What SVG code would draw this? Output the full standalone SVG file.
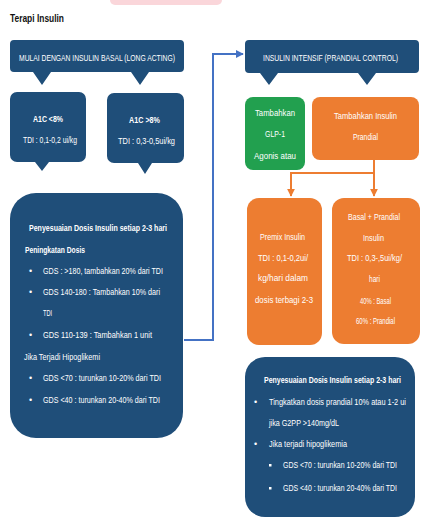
<svg xmlns="http://www.w3.org/2000/svg" width="427" height="525" viewBox="0 0 427 525">
<defs>
<style>
text{font-family:"Liberation Sans",Arial,sans-serif;fill:#fff;font-size:9px}
.c{text-anchor:middle}
.b{font-weight:bold}
.db{fill:#1f4e79}
.gr{fill:#22a04f}
.or{fill:#ed7d31}
.title{fill:#111;font-size:11px;font-weight:bold}
.blue{fill:none;stroke:#4472c4;stroke-width:2}
.orl{fill:none;stroke:#ed7d31;stroke-width:2}
</style>
<marker id="ab" viewBox="0 0 10 10" refX="9" refY="5" markerWidth="4" markerHeight="4" orient="auto"><path d="M0,0L10,5L0,10z" fill="#4472c4"/></marker>
<marker id="ao" viewBox="0 0 10 10" refX="9" refY="5" markerWidth="4" markerHeight="4" orient="auto"><path d="M0,0L10,5L0,10z" fill="#ed7d31"/></marker>
</defs>
<rect width="427" height="525" fill="#fff"/>
<rect x="110" y="-6" width="112" height="11" rx="5" fill="#fad6da"/>
<text class="title" x="10" y="22" textLength="54" lengthAdjust="spacingAndGlyphs">Terapi Insulin</text>

<g id="connectors">
<path class="blue" d="M184,340H213V54H243" marker-end="url(#ab)"/>
<path class="orl" d="M374,160V173H291V196"/>
<path class="orl" d="M291,185V196" marker-end="url(#ao)"/>
<path class="orl" d="M374,173V196" marker-end="url(#ao)"/>
</g>

<g id="basal">
<path class="db" d="M14,40H180a4,4 0 0 1 4,4V68a4,4 0 0 1 -4,4H149L140,85L131,72H51L42,85L33,72H14a4,4 0 0 1 -4,-4V44a4,4 0 0 1 4,-4z"/>
<text x="19" y="61" textLength="156" lengthAdjust="spacingAndGlyphs">MULAI DENGAN INSULIN BASAL (LONG ACTING)</text>
</g>

<g id="intensif">
<path class="db" d="M249,40H415a4,4 0 0 1 4,4V69a4,4 0 0 1 -4,4H376L367,85L358,73H278L269,85L260,73H249a4,4 0 0 1 -4,-4V44a4,4 0 0 1 4,-4z"/>
<text x="263" y="61" textLength="135" lengthAdjust="spacingAndGlyphs">INSULIN INTENSIF (PRANDIAL CONTROL)</text>
</g>

<g id="a1c-lt8">
<path class="db" d="M17,92H79a7,7 0 0 1 7,7V155a7,7 0 0 1 -7,7H49L42,171L35,162H17a7,7 0 0 1 -7,-7V99a7,7 0 0 1 7,-7z"/>
<text class="b" x="33" y="122" textLength="30" lengthAdjust="spacingAndGlyphs">A1C &lt;8%</text>
<text x="23" y="143" textLength="54" lengthAdjust="spacingAndGlyphs">TDI : 0,1-0,2 ui/kg</text>
</g>

<g id="a1c-gt8">
<path class="db" d="M114,93H177a7,7 0 0 1 7,7V156a7,7 0 0 1 -7,7H152L145,174L138,163H114a7,7 0 0 1 -7,-7V100a7,7 0 0 1 7,-7z"/>
<text class="b" x="129" y="123" textLength="31" lengthAdjust="spacingAndGlyphs">A1C &gt;8%</text>
<text x="118" y="144" textLength="57" lengthAdjust="spacingAndGlyphs">TDI : 0,3-0,5ui/kg</text>
</g>

<g id="glp1">
<rect class="gr" x="245" y="97" width="60" height="73" rx="8"/>
<text x="255" y="116" textLength="40" lengthAdjust="spacingAndGlyphs">Tambahkan</text>
<text x="265" y="137" textLength="20" lengthAdjust="spacingAndGlyphs">GLP-1</text>
<text x="254" y="159" textLength="42" lengthAdjust="spacingAndGlyphs">Agonis atau</text>
</g>

<g id="prandial">
<rect class="or" x="312" y="97" width="107" height="63" rx="8"/>
<text x="334" y="119" textLength="63" lengthAdjust="spacingAndGlyphs">Tambahkan Insulin</text>
<text x="353" y="140" textLength="25" lengthAdjust="spacingAndGlyphs">Prandial</text>
</g>

<g id="premix">
<rect class="or" x="247" y="198" width="75" height="147" rx="12"/>
<text x="260" y="240" textLength="45" lengthAdjust="spacingAndGlyphs">Premix Insulin</text>
<text x="258" y="261" textLength="50" lengthAdjust="spacingAndGlyphs">TDI : 0,1-0,2ui/</text>
<text x="258" y="281" textLength="50" lengthAdjust="spacingAndGlyphs">kg/hari dalam</text>
<text x="255" y="303" textLength="58" lengthAdjust="spacingAndGlyphs">dosis terbagi 2-3</text>
</g>

<g id="basal-prandial">
<rect class="or" x="332" y="198" width="88" height="146" rx="12"/>
<text x="348" y="220" textLength="52" lengthAdjust="spacingAndGlyphs">Basal + Prandial</text>
<text x="363" y="241" textLength="21" lengthAdjust="spacingAndGlyphs">Insulin</text>
<text x="347" y="261" textLength="55" lengthAdjust="spacingAndGlyphs">TDI : 0,3-,5ui/kg/</text>
<text x="369" y="282" textLength="11" lengthAdjust="spacingAndGlyphs">hari</text>
<text x="360" y="304" textLength="31" lengthAdjust="spacingAndGlyphs">40% : Basal</text>
<text x="356" y="324" textLength="39" lengthAdjust="spacingAndGlyphs">60% : Prandial</text>
</g>

<g id="penyesuaian-basal">
<rect class="db" x="10" y="193" width="173" height="245" rx="26"/>
<text class="b" x="29" y="231" textLength="138" lengthAdjust="spacingAndGlyphs">Penyesuaian Dosis Insulin setiap 2-3 hari</text>
<text class="b" x="25" y="253" textLength="60" lengthAdjust="spacingAndGlyphs">Peningkatan Dosis</text>
<text x="29" y="274">•</text>
<text x="43" y="274" textLength="120" lengthAdjust="spacingAndGlyphs">GDS : &gt;180, tambahkan 20% dari TDI</text>
<text x="29" y="295">•</text>
<text x="43" y="295" textLength="117" lengthAdjust="spacingAndGlyphs">GDS 140-180 : Tambahkan 10% dari</text>
<text x="43" y="316" textLength="9" lengthAdjust="spacingAndGlyphs">TDI</text>
<text x="29" y="338">•</text>
<text x="43" y="338" textLength="109" lengthAdjust="spacingAndGlyphs">GDS  110-139 : Tambahkan 1 unit</text>
<text x="24" y="360" textLength="76" lengthAdjust="spacingAndGlyphs">Jika Terjadi Hipoglikemi</text>
<text x="29" y="381">•</text>
<text x="43" y="381" textLength="118" lengthAdjust="spacingAndGlyphs">GDS &lt;70 : turunkan 10-20% dari TDI</text>
<text x="29" y="403">•</text>
<text x="43" y="403" textLength="117" lengthAdjust="spacingAndGlyphs">GDS &lt;40 : turunkan 20-40% dari TDI</text>
</g>

<g id="penyesuaian-prandial">
<rect class="db" x="245" y="357" width="170" height="160" rx="20"/>
<text class="b" x="264" y="383" textLength="137" lengthAdjust="spacingAndGlyphs">Penyesuaian Dosis Insulin setiap 2-3 hari</text>
<text x="254" y="405">•</text>
<text x="269" y="405" textLength="137" lengthAdjust="spacingAndGlyphs">Tingkatkan dosis prandial 10% atau 1-2 ui</text>
<text x="269" y="426" textLength="70" lengthAdjust="spacingAndGlyphs">jika G2PP &gt;140mg/dL</text>
<text x="254" y="447">•</text>
<text x="269" y="447" textLength="78" lengthAdjust="spacingAndGlyphs">Jika terjadi hipoglikemia</text>
<rect x="269" y="464" width="2.5" height="2.5" fill="#fff"/>
<text x="283" y="468" textLength="114" lengthAdjust="spacingAndGlyphs">GDS &lt;70 : turunkan 10-20% dari TDI</text>
<rect x="269" y="487" width="2.5" height="2.5" fill="#fff"/>
<text x="283" y="491" textLength="114" lengthAdjust="spacingAndGlyphs">GDS &lt;40 : turunkan 20-40% dari TDI</text>
</g>
</svg>
